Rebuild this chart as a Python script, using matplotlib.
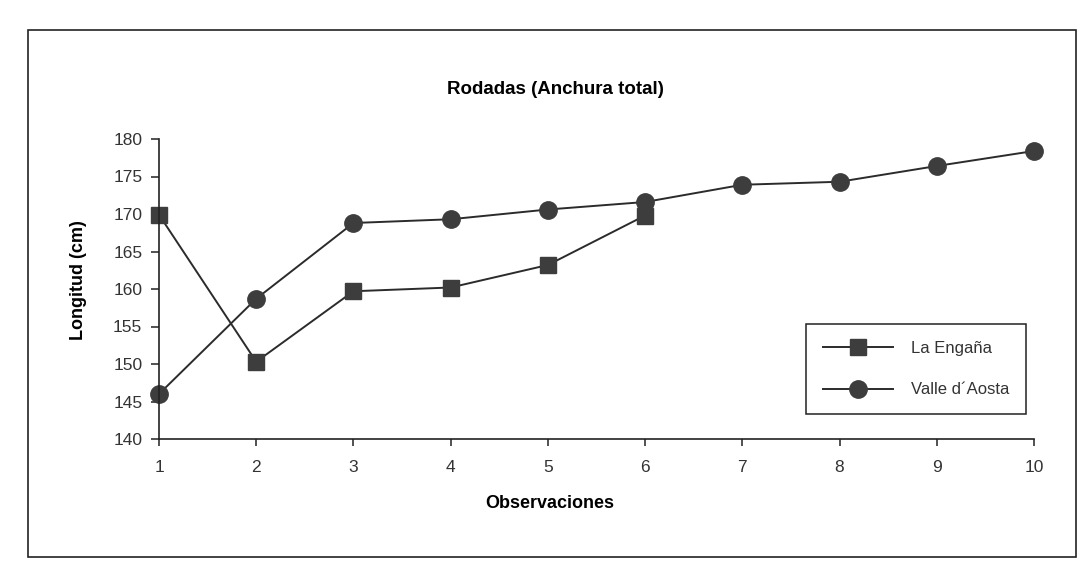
import matplotlib
matplotlib.use("Agg")
import matplotlib.pyplot as plt
from matplotlib.patches import Rectangle

# Observaciones de la anchura total de las rodadas (cm)
observaciones = [1, 2, 3, 4, 5, 6, 7, 8, 9, 10]
la_engana = [169.9, 150.3, 159.7, 160.2, 163.2, 169.8]
valle_aosta = [146.0, 158.7, 168.8, 169.3, 170.6, 171.6, 173.9, 174.3, 176.4, 178.4]
y_ticks = [140, 145, 150, 155, 160, 165, 170, 175, 180]

plt.rcParams["font.family"] = ["Liberation Sans", "DejaVu Sans"]

W, H = 1081, 577
fig = plt.figure(figsize=(W / 100, H / 100), dpi=100)
fig.patch.set_facecolor("white")

# marco exterior del gráfico
fig.patches.append(Rectangle((28 / W, 1 - 557 / H), (1076 - 28) / W, (557 - 30) / H,
                             transform=fig.transFigure, fill=False,
                             edgecolor="#222222", linewidth=1.2))

ax = fig.add_axes([159 / W, 1 - 439 / H, (1034 - 159) / W, (439 - 139) / H])

line_kw = dict(color="#2b2b2b", linewidth=1.4, clip_on=False,
               markerfacecolor="#3d3d3d", markeredgecolor="#3d3d3d")
ax.plot(observaciones[:len(la_engana)], la_engana, marker="s", markersize=12,
        label="La Engaña", **line_kw)
ax.plot(observaciones, valle_aosta, marker="o", markersize=12.5,
        label="Valle d´Aosta", **line_kw)

ax.set_xlim(1, 10)
ax.set_ylim(140, 180)
ax.set_xticks(observaciones)
ax.set_yticks(y_ticks)
for side in ("top", "right"):
    ax.spines[side].set_visible(False)
for side in ("left", "bottom"):
    ax.spines[side].set_color("#222222")
    ax.spines[side].set_linewidth(1.2)
ax.tick_params(axis="y", direction="out", length=6, width=1.1, pad=6,
               labelsize=12.5, labelcolor="#333333", color="#222222")
ax.tick_params(axis="x", direction="out", length=5, width=1.1, pad=10,
               labelsize=12.5, labelcolor="#333333", color="#222222")

fig.text(555 / W, 1 - 89 / H, "Rodadas (Anchura total)", ha="center", va="center",
         fontsize=13.5, fontweight="bold")
fig.text(550 / W, 1 - 504 / H, "Observaciones", ha="center", va="center",
         fontsize=13, fontweight="bold")
fig.text(79 / W, 1 - 280 / H, "Longitud (cm)", ha="center", va="center",
         rotation=90, fontsize=13, fontweight="bold")

leg = ax.legend(loc="center", bbox_to_anchor=(916 / W, 1 - 369 / H),
                bbox_transform=fig.transFigure, fontsize=12, handlelength=4.2,
                handletextpad=1.1, labelspacing=1.6, borderpad=1.0,
                fancybox=False, framealpha=1, edgecolor="#222222")
leg.get_frame().set_linewidth(1.1)
for t in leg.get_texts():
    t.set_color("#333333")

fig.savefig("out.png", dpi=100, facecolor="white")
